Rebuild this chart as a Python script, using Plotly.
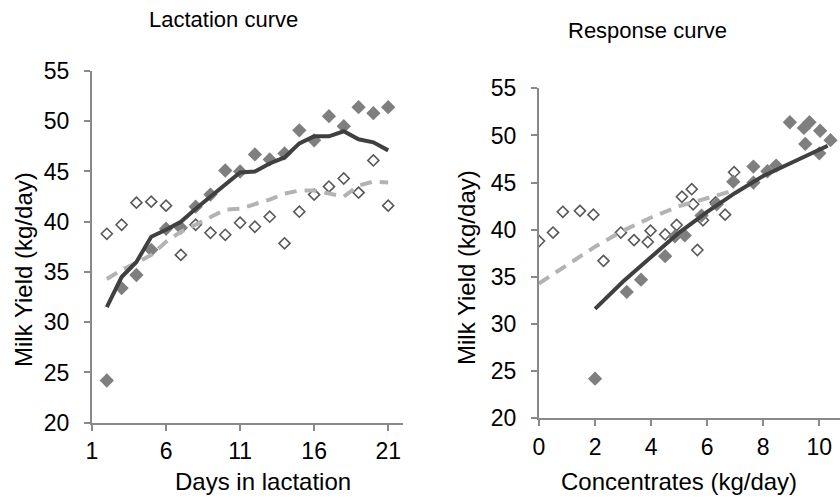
import plotly.graph_objects as go

# ---- data ----
days = list(range(2, 22))
fed_yield = [24.2, 33.4, 34.7, 37.2, 39.3, 39.4, 41.5, 42.7, 45.1, 45.0,
             46.7, 46.2, 46.8, 49.1, 48.1, 50.5, 49.5, 51.4, 50.8, 51.4]
ctrl_yield = [38.8, 39.7, 41.9, 42.0, 41.6, 36.7, 39.7, 38.9, 38.7, 39.9,
              39.5, 40.5, 37.85, 41.0, 42.7, 43.5, 44.3, 42.9, 46.1, 41.6]
fed_curve = [31.5, 34.5, 36.0, 38.5, 39.2, 40.0, 41.3, 42.5, 43.8, 44.9,
             45.0, 45.8, 46.4, 47.8, 48.5, 48.5, 49.0, 48.2, 47.9, 47.1]
ctrl_curve = [34.3, 35.2, 35.9, 36.7, 38.0, 39.0, 39.7, 40.5, 41.2, 41.3,
              41.7, 42.2, 42.8, 43.1, 43.1, 42.8, 42.5, 43.6, 44.0, 43.9]

fed_conc = [2.0, 3.13, 3.64, 4.5, 4.85, 5.2, 5.8, 6.34, 6.93, 7.65,
            7.65, 8.15, 8.46, 9.5, 10.0, 10.03, 10.4, 8.95, 9.45, 9.65]
ctrl_conc = [0.0, 0.5, 0.85, 1.46, 1.94, 2.3, 2.92, 3.39, 3.88, 3.98,
             4.5, 4.91, 5.65, 5.85, 5.5, 5.1, 5.45, 6.3, 6.96, 6.64]
fed_resp_x = [2, 3, 4, 5, 6, 7, 8, 9, 10, 10.3]
fed_resp = [31.6, 34.5, 37.1, 39.7, 41.9, 43.9, 45.7, 47.1, 48.4, 48.9]
ctrl_resp_x = [0, 1, 2, 3, 4, 5, 6, 7]
ctrl_resp = [34.3, 36.3, 38.2, 39.9, 41.3, 42.5, 43.4, 44.2]

left_xticks = [1, 6, 11, 16, 21]
right_xticks = [0, 2, 4, 6, 8, 10]
yticks = [20, 25, 30, 35, 40, 45, 50, 55]

FILL = "#7f7f7f"
OPEN = "#595959"
SOLID = "#404040"
DASH = "#b3b3b3"
AX = "#898989"
FONT = "Liberation Sans, Arial, sans-serif"

fig = go.Figure()

def add_panel(xa, ya, xo, yo, xf, yf, xc, yc, xl, yl):
    fig.add_trace(go.Scatter(x=xc, y=yc, mode="markers", xaxis=xa, yaxis=ya,
                             marker=dict(symbol="diamond", size=8.5, color="white",
                                         line=dict(color=OPEN, width=1.6)),
                             showlegend=False, hoverinfo="skip"))
    fig.add_trace(go.Scatter(x=xf, y=yf, mode="markers", xaxis=xa, yaxis=ya,
                             marker=dict(symbol="diamond", size=11, color=FILL,
                                         line=dict(width=0)),
                             showlegend=False, hoverinfo="skip"))
    fig.add_trace(go.Scatter(x=xl, y=yl, mode="lines", xaxis=xa, yaxis=ya,
                             line=dict(color=DASH, width=4, dash="12px,8px"),
                             showlegend=False, hoverinfo="skip"))
    fig.add_trace(go.Scatter(x=xo, y=yo, mode="lines", xaxis=xa, yaxis=ya,
                             line=dict(color=SOLID, width=4),
                             showlegend=False, hoverinfo="skip"))

add_panel("x", "y", days, fed_curve, days, fed_yield, days, ctrl_yield, days, ctrl_curve)
add_panel("x2", "y2", fed_resp_x, fed_resp, fed_conc, fed_yield, ctrl_conc, ctrl_yield,
          ctrl_resp_x, ctrl_resp)

W, H = 840, 499
axis_common = dict(showgrid=False, zeroline=False, showline=True, linecolor=AX,
                   linewidth=2, ticks="outside", tickcolor=AX, tickwidth=2, ticklen=6,
                   automargin=False,
                   tickfont=dict(family=FONT, size=23, color="black"))

fig.update_layout(
    width=W, height=H, margin=dict(l=0, r=0, t=0, b=0, autoexpand=False),
    paper_bgcolor="white", plot_bgcolor="white",
    xaxis=dict(axis_common, domain=[92 / W, 403 / W], range=[1, 22],
               tickvals=left_xticks, anchor="y", ticklabelstandoff=1),
    yaxis=dict(axis_common, domain=[1 - 422.7 / H, 1 - 71 / H], range=[20, 55],
               tickvals=yticks, anchor="x", ticklabelstandoff=10),
    xaxis2=dict(axis_common, domain=[539 / W, 1.0], range=[0, 301 / 28.03],
                tickvals=right_xticks, anchor="y2", ticklabelstandoff=1),
    yaxis2=dict(axis_common, domain=[1 - 418.3 / H, 1 - 88.3 / H], range=[20, 55],
                tickvals=yticks, anchor="x2", ticklabelstandoff=10),
)

def ann(text, x, y, size, angle=0):
    fig.add_annotation(text=text, x=x / W, y=1 - y / H, xref="paper", yref="paper",
                       showarrow=False, textangle=angle, xanchor="center", yanchor="middle",
                       font=dict(family=FONT, size=size, color="black"))

ann("Lactation curve", 223, 19, 22)
ann("Response curve", 647, 31, 22)
ann("Days in lactation", 263, 481, 24)
ann("Concentrates (kg/day)", 679, 481, 24)
ann("Milk Yield (kg/day)", 23, 270, 24, -90)
ann("Milk Yield (kg/day)", 466, 268, 24, -90)

fig.write_html("out.html")
